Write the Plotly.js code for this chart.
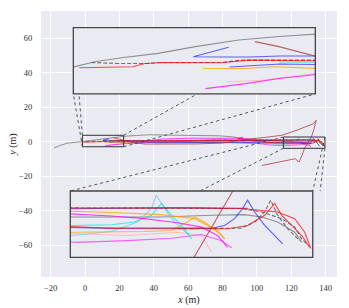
<!DOCTYPE html>
<html>
<head>
<meta charset="utf-8">
<script src="https://cdn.plot.ly/plotly-3.0.1.min.js"></script>
<style>html,body{margin:0;padding:0;background:#fff;}#chart{width:349px;height:308px;}</style>
</head>
<body>
<div id="chart"></div>
<script>
// ---- trajectory data (metres) ----
const grayX  = [-18, -14, -10, -5, -1.4, 0.6, 3.5, 6.9, 10.6, 14.9, 18.9, 22.7, 30, 37, 50, 66, 78, 86, 92, 100, 108, 115.6, 120, 124.5, 129.5, 132.8, 134.5, 136.1, 137.8, 138.5];
const grayY  = [-3.7, -2.0, -0.8, -0.35, -0.24, 0.27, 0.7, 1.11, 1.79, 2.46, 2.8, 3.13, 3.6, 4.0, 3.8, 3.8, 3.4, 2.8, 1.5, 0.8, 0.4, 0.13, 0.13, 0.13, 0.3, 0.37, 0.13, -0.37, -1.37, -2.37];
const gtAX   = [0.27, 2.9, 5.9, 7.2, 13.2, 15.2, 22.7, 40, 60, 80, 100, 115.6, 121, 127.8, 132.5, 134.5, 136.5, 137.8, 138.5, 139.1];
const gtAY   = [0.2, 0.1, 0.1, 0.2, 0.2, 0.44, 0.44, 0.6, 0.8, 1.0, 1.0, 1.03, 1.03, 1.03, 0.97, 0.63, -0.03, -0.87, -2.03, -2.63];
const redAX  = [-0.9, 4.4, 5.6, 7.2, 13.2, 15.9, 22.7, 40, 60, 80, 100, 115.6, 121.1, 127.8, 132.5, 134.5, 136.1, 137.8, 138.8, 139.4];
const redAY  = [-0.33, -0.23, 0.1, 0.2, 0.17, 0.44, 0.37, 0.5, 0.7, 0.9, 1.0, 1.03, 1.03, 1.03, 0.97, 0.8, 0.63, -0.03, -1.37, -2.97];
const blueAX = [13.9, 10.4, 13, 16, 19, 22.7, 40, 60, 80, 100, 115.6, 121, 126, 130, 133.1];
const blueAY = [1.72, 0.78, 0.75, 0.75, 0.85, 0.75, 0.5, 0.3, 0.5, 0.8, 0.95, 0.97, 1.05, 1.0, 1.0];
const blueBX = [14, 16, 19, 22.7, 40, 60, 80, 100, 110, 118.8, 124.5, 129.5, 130.8, 131.8, 132.6, 133.1, 133.8, 134.8, 135.8, 136.6];
const blueBY = [-0.25, -0.1, 0.05, 0.0, -0.4, -0.5, -0.4, -0.6, -0.8, -0.97, -0.97, -0.97, -0.7, -0.03, 0.97, 1.8, 0.63, -0.7, -1.7, -2.53];
const orgAX  = [11.4, 15.5, 18.5, 22.7, 40, 60, 80, 100, 115.6, 119.5, 124.5, 127.8, 130.1, 130.8];
const orgAY  = [-0.4, -0.4, -0.23, -0.4, -0.3, -0.2, 0.0, 0.4, 0.7, 0.57, 0.37, -0.03, -1.2, -2.03];
const magAX  = [11.6, 15.6, 18.9, 22.7, 30, 45, 60, 75, 90, 100, 115.6, 119.5, 122.8, 126.1, 128.5, 130.1, 131.1];
const magAY  = [-2.42, -1.92, -1.41, -0.9, 0.0, 1.5, 2.0, 2.2, 2.0, 1.2, 0.47, 0.23, -0.03, -0.43, -0.87, -1.7, -2.87];
const pinkX  = [13.7, 17.2, 22.7, 40, 60, 80, 100, 115.6, 121.1, 126.1, 128.5, 129.5];
const pinkY  = [-1.75, -1.58, -0.9, -0.5, 0.3, 0.8, 0.0, -1.5, -1.7, -1.37, -1.7, -3.37];
const brownX = [16.5, 18.9, 22.7, 28, 35, 50, 65, 80, 88, 95, 105, 114.5, 122, 128.1, 132.9, 134.5, 133.9, 133, 131.8, 129.3, 127.6, 126.2, 124.6, 122.3, 115, 102.9];
const brownY = [2.29, 1.79, 0.78, -0.5, -1.4, -1.5, -1.3, -0.8, 0.5, 1.5, 2.5, 3.7, 6.2, 8.5, 10.4, 12.4, 9.5, 6.5, 3.0, -1.2, -4.1, -8.0, -11.8, -9.9, -11.5, -13.8];
const cyanX  = [18.9, 22.7, 40, 60, 80, 90, 100, 110, 115.6, 119.5, 121.8, 123.5, 124.5, 125.5, 126.5, 127.5];
const cyanY  = [0.25, 0.3, 0.0, 0.2, 0.8, 1.2, 0.3, -0.5, -0.7, -0.63, -0.37, 0.3, 1.47, 0.3, -0.7, -2.03];
const redBX  = [92, 89, 92, 100, 110, 120, 127.1, 131.1, 133.1, 134.8, 135.8, 136.5, 137.5, 138.5, 139.3];
const redBY  = [2.6, 1.9, 1.2, 0.2, -0.6, -1.0, -1.03, -1.03, -0.7, 0.3, 1.47, 0.3, -0.7, -1.7, -2.87];
const gtBX   = [126.1, 132.5, 133.8, 134.8, 135.4, 136.1, 137.1, 138.3];
const gtBY   = [-1.03, -0.97, -0.37, 0.63, 1.8, 0.3, -1.03, -2.2];
const orgBX  = [40, 60, 80, 100, 115.6, 122.8, 125.5, 127.1, 127.8, 128.8, 130.1, 130.8];
const orgBY  = [-0.8, -0.7, -0.5, -1.0, -1.37, -1.3, -1.2, -0.37, 0.13, -0.37, -1.37, -2.03];
const skyX   = [70, 90, 105, 115.6, 119.5, 122.1, 123.5, 124, 124.8, 125.8, 127.3];
const skyY   = [0.0, -0.5, -1.2, -1.7, -1.3, -0.37, 0.97, 2.3, 0.97, -0.37, -1.7];
const magBX  = [25, 40, 60, 80, 100, 108, 116, 121.1, 125.5, 128.5, 130.5, 131.5];
const magBY  = [-1.0, -0.2, 0.8, 1.5, -1.0, -2.0, -2.37, -2.2, -1.97, -1.6, -2.2, -2.9];

const xTicks = [-20, 0, 20, 40, 60, 80, 100, 120, 140];
const yTicks = [-60, -40, -20, 0, 20, 40, 60];

// zoom regions and inset boxes (main-axis data coordinates)
const zoomA  = {x0: -1.5, x1: 22.5, y0: -2.95, y1: 3.7};
const zoomB  = {x0: 115.4, x1: 139.6, y0: -3.85, y1: 2.7};
const insetA = {x0: -6.8, x1: 134.0, y0: 27.7, y1: 66.2};
const insetB = {x0: -8.55, x1: 132.5, y0: -67.1, y1: -28.6};
const xRange = [-25.6, 146.6];
const yRange = [-78.5, 75.8];

const series = [
  {x: grayX,  y: grayY,  c: 'rgba(128,128,128,0.85)', d: 'solid'},
  {x: pinkX,  y: pinkY,  c: 'rgba(255,182,193,0.9)',  d: 'solid'},
  {x: skyX,   y: skyY,   c: 'rgba(135,206,235,0.9)',  d: 'solid'},
  {x: magBX,  y: magBY,  c: 'rgba(255,0,255,0.6)',    d: 'solid'},
  {x: orgBX,  y: orgBY,  c: 'rgba(255,165,0,0.75)',   d: 'solid'},
  {x: cyanX,  y: cyanY,  c: 'rgba(0,230,230,0.75)',   d: 'solid'},
  {x: magAX,  y: magAY,  c: 'rgba(255,0,255,0.75)',   d: 'solid'},
  {x: orgAX,  y: orgAY,  c: 'rgba(255,165,0,0.8)',    d: 'solid'},
  {x: blueBX, y: blueBY, c: 'rgba(0,0,255,0.6)',      d: 'solid'},
  {x: blueAX, y: blueAY, c: 'rgba(0,0,255,0.6)',      d: 'solid'},
  {x: gtBX,   y: gtBY,   c: 'rgba(90,90,90,0.85)',    d: '4px,2px'},
  {x: redBX,  y: redBY,  c: 'rgba(255,0,0,0.7)',      d: 'solid'},
  {x: brownX, y: brownY, c: 'rgba(178,60,60,0.8)',    d: 'solid'},
  {x: gtAX,   y: gtAY,   c: 'rgba(90,90,90,0.85)',    d: '4px,2px'},
  {x: redAX,  y: redAY,  c: 'rgba(255,0,0,0.7)',      d: 'solid'}
];

const traces = [];
[['x','y',1.0],['x2','y2',1.1],['x3','y3',1.1]].forEach(([xa, ya, w]) => {
  series.forEach(s => traces.push({
    type: 'scatter', mode: 'lines', x: s.x, y: s.y, xaxis: xa, yaxis: ya,
    line: {color: s.c, width: w, dash: s.d}, hoverinfo: 'skip', showlegend: false
  }));
});

const fx = v => (v - xRange[0]) / (xRange[1] - xRange[0]);
const fy = v => (v - yRange[0]) / (yRange[1] - yRange[0]);

// connector lines: corresponding corners, visible part outside inset
function connectors(z, ins, above) {
  const edgeY = above ? ins.y0 : ins.y1;
  const out = [];
  const pairs = [[z.x0, z.y0, ins.x0, ins.y0], [z.x0, z.y1, ins.x0, ins.y1],
                 [z.x1, z.y0, ins.x1, ins.y0], [z.x1, z.y1, ins.x1, ins.y1]];
  pairs.forEach(([ax, ay, bx, by]) => {
    const t = (edgeY - ay) / (by - ay);
    out.push({type: 'line', xref: 'x', yref: 'y', x0: ax, y0: ay,
      x1: ax + t * (bx - ax), y1: edgeY, layer: 'above',
      line: {color: 'rgba(60,60,60,0.85)', width: 1, dash: 'dot'}});
  });
  return out;
}
const box = (b, w, col) => ({type: 'rect', xref: 'x', yref: 'y', x0: b.x0, x1: b.x1, y0: b.y0, y1: b.y1,
  line: {color: col, width: w}, fillcolor: 'rgba(0,0,0,0)', layer: 'above'});

const shapes = [].concat(connectors(zoomA, insetA, true), connectors(zoomB, insetB, false),
  [box(zoomA, 1, '#333'), box(zoomB, 1, '#333'), box(insetA, 1.3, '#444'), box(insetB, 1.3, '#444')]);

const tf = {family: 'Liberation Serif, DejaVu Serif, serif', size: 8.5, color: '#333'};
const hidden = {visible: false, showgrid: false, zeroline: false};

const layout = {
  width: 349, height: 308,
  margin: {l: 41, r: 12, t: 11, b: 31},
  paper_bgcolor: '#ffffff', plot_bgcolor: '#EAEAF2',
  showlegend: false,
  xaxis: {range: xRange, domain: [0, 1], tickvals: xTicks, ticktext: xTicks.map(v => v < 0 ? '\u2212' + Math.abs(v) : String(v)),
    showgrid: true, gridcolor: '#ffffff', gridwidth: 1, zeroline: false, showline: false,
    ticks: 'outside', ticklen: 3, tickcolor: 'rgba(0,0,0,0)', tickfont: tf,
    title: {text: '<i>x</i> (m)', font: {family: tf.family, size: 10, color: '#222'}, standoff: 3}},
  yaxis: {range: yRange, domain: [0, 1], tickvals: yTicks, ticktext: yTicks.map(v => v < 0 ? '\u2212' + Math.abs(v) : String(v)),
    showgrid: true, gridcolor: '#ffffff', gridwidth: 1, zeroline: false, showline: false,
    ticks: 'outside', ticklen: 6, tickcolor: 'rgba(0,0,0,0)', tickfont: tf,
    title: {text: '<i>y</i> (m)', font: {family: tf.family, size: 10, color: '#222'}, standoff: 0}},
  xaxis2: Object.assign({anchor: 'y2', range: [zoomA.x0, zoomA.x1], domain: [fx(insetA.x0), fx(insetA.x1)]}, hidden),
  yaxis2: Object.assign({anchor: 'x2', range: [zoomA.y0, zoomA.y1], domain: [fy(insetA.y0), fy(insetA.y1)]}, hidden),
  xaxis3: Object.assign({anchor: 'y3', range: [zoomB.x0, zoomB.x1], domain: [fx(insetB.x0), fx(insetB.x1)]}, hidden),
  yaxis3: Object.assign({anchor: 'x3', range: [zoomB.y0, zoomB.y1], domain: [fy(insetB.y0), fy(insetB.y1)]}, hidden),
  shapes: shapes
};

Plotly.newPlot('chart', traces, layout, {staticPlot: true, displayModeBar: false});
</script>
</body>
</html>
